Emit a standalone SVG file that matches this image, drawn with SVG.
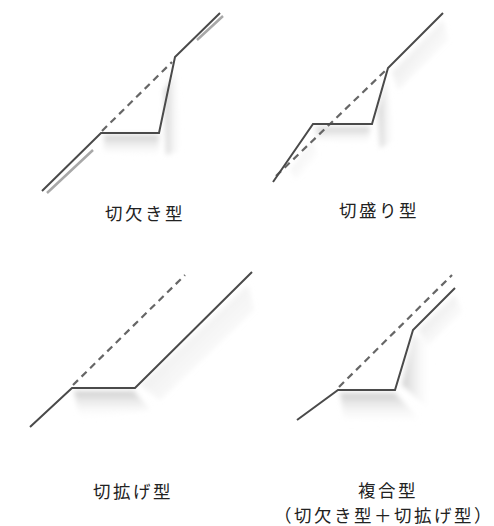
<svg xmlns="http://www.w3.org/2000/svg" width="494" height="526" viewBox="0 0 494 526">
  <style>
    .ground { fill: none; stroke: #4a4a4a; stroke-width: 2; stroke-linejoin: miter; }
    .orig { fill: none; stroke: #666; stroke-width: 2.2; stroke-dasharray: 7 5; }
    .rail { fill: none; stroke: #a8a8a8; stroke-width: 2.5; }
    .label { font-family: "Noto Sans CJK JP", "Noto Sans CJK SC", sans-serif; font-size: 17.5px; letter-spacing: 2.5px; fill: #222; text-anchor: middle; }
  </style>
  <defs>
    <linearGradient id="shadeDown" x1="0" y1="0" x2="0" y2="1">
      <stop offset="0" stop-color="#c8c8c8" stop-opacity="0.9"/>
      <stop offset="1" stop-color="#ffffff" stop-opacity="0"/>
    </linearGradient>
    <linearGradient id="shadeRight" x1="0" y1="0" x2="1" y2="0">
      <stop offset="0" stop-color="#c8c8c8" stop-opacity="0.9"/>
      <stop offset="1" stop-color="#ffffff" stop-opacity="0"/>
    </linearGradient>
    <linearGradient id="shadeSlope" x1="0" y1="0" x2="1" y2="1">
      <stop offset="0" stop-color="#cfcfcf" stop-opacity="0.9"/>
      <stop offset="1" stop-color="#ffffff" stop-opacity="0"/>
    </linearGradient>
    <filter id="soft" x="-20%" y="-20%" width="140%" height="140%">
      <feGaussianBlur stdDeviation="2.5"/>
    </filter>
  </defs>

  <!-- 切欠き型 -->
  <g id="notch">
    <g filter="url(#soft)">
      <polygon points="104,135 159,135 158,158 104,152" fill="url(#shadeDown)"/>
      <polygon points="164,90 176,70 182,150 166,155" fill="url(#shadeRight)"/>
    </g>
    <path class="rail" d="M47,193 L93,150 M197,40 L223,16"/>
    <path class="orig" d="M102,131 L172,62"/>
    <path class="ground" d="M42,191 L101,133 L159,133 L175,57 L220,13"/>
  </g>

  <!-- 切盛り型 -->
  <g id="fill">
    <g filter="url(#soft)">
      <polygon points="316,127 370,127 368,145 316,140" fill="url(#shadeDown)"/>
      <polygon points="378,110 386,80 395,140 380,148" fill="url(#shadeRight)"/>
      <polygon points="392,72 443,20 448,40 398,90" fill="url(#shadeSlope)"/>
      <polygon points="290,170 312,140 318,155 296,180" fill="url(#shadeSlope)" opacity="0.6"/>
    </g>
    <path class="orig" d="M276,176 L386,70"/>
    <path class="ground" d="M273,182 L313,124 L372,124 L388,68 L443,13"/>
  </g>

  <!-- 切拡げ型 -->
  <g id="widen">
    <g filter="url(#soft)">
      <polygon points="74,391 134,391 150,410 80,420" fill="url(#shadeDown)"/>
      <polygon points="140,385 248,285 254,310 160,400" fill="url(#shadeSlope)"/>
    </g>
    <path class="orig" d="M73,385 L185,275"/>
    <path class="ground" d="M30,427 L72,388 L135,388 L252,272"/>
  </g>

  <!-- 複合型 -->
  <g id="combined">
    <g filter="url(#soft)">
      <polygon points="340,393 395,393 420,420 345,425" fill="url(#shadeDown)"/>
      <polygon points="402,385 413,335 432,345 430,410" fill="url(#shadeRight)"/>
      <polygon points="418,330 455,295 462,312 428,345" fill="url(#shadeSlope)"/>
    </g>
    <path class="orig" d="M339,387 L452,275"/>
    <path class="ground" d="M297,420 L338,390 L395,390 L413,330 L455,288"/>
  </g>

  <!-- labels -->
  <g id="labels">
    <text class="label" x="145" y="220">切欠き型</text>
    <text class="label" x="379" y="217">切盛り型</text>
    <text class="label" x="133" y="498">切拡げ型</text>
    <text class="label" x="388" y="497">複合型</text>
    <text class="label" x="384" y="522">（切欠き型＋切拡げ型）</text>
  </g>
</svg>
